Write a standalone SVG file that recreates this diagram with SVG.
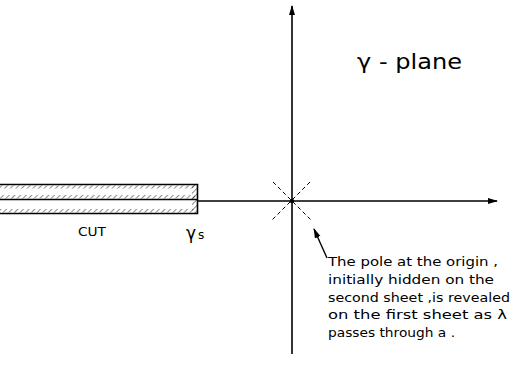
<svg xmlns="http://www.w3.org/2000/svg" width="511" height="377" viewBox="0 0 511 377">
<style>
.ln{stroke:#000;stroke-width:1.6;fill:none}
.ds{stroke:#000;stroke-width:1;stroke-dasharray:4 3;fill:none}
.t{font-family:"DejaVu Sans","Liberation Sans",sans-serif;fill:#000}
</style>
<defs>
<pattern id="hatch" width="4" height="4" patternUnits="userSpaceOnUse" patternTransform="rotate(45)">
<line x1="0" y1="0" x2="0" y2="4" stroke="#000" stroke-width="0.9"/>
</pattern>
<marker id="ah" markerWidth="10" markerHeight="8" refX="9" refY="4" orient="auto" markerUnits="userSpaceOnUse">
<path d="M0,1 L10,4 L0,7 Z" fill="#000"/>
</marker>
</defs>
<rect width="511" height="377" fill="#fff"/>
<g id="connectors">
<line class="ln" x1="292" y1="354" x2="292" y2="6" marker-end="url(#ah)"/>
<line class="ln" x1="197" y1="201" x2="497" y2="201" marker-end="url(#ah)"/>
<line class="ds" x1="273" y1="182" x2="311" y2="220"/>
<line class="ds" x1="310" y1="182" x2="272" y2="220"/>
<line stroke="#000" stroke-width="1.4" x1="327" y1="258" x2="314" y2="229" marker-end="url(#ah)"/>
</g>
<g id="origin"><circle cx="292" cy="201" r="2.2" fill="#000"/></g>
<g id="cut">
<rect x="0" y="185.5" width="195" height="3" fill="url(#hatch)"/>
<rect x="0" y="195" width="195" height="3.5" fill="url(#hatch)"/>
<rect x="0" y="209" width="195" height="3.5" fill="url(#hatch)"/>
<rect x="192" y="185" width="5" height="28" fill="url(#hatch)"/>
<path class="ln" d="M0,184.5 H197.5 V213.5 H0"/>
<line class="ln" x1="0" y1="199.5" x2="197" y2="199.5"/>
<text class="t" x="78" y="236" font-size="12" textLength="28" lengthAdjust="spacingAndGlyphs">CUT</text>
<text class="t" x="186" y="239" font-size="17">γ<tspan font-size="12" dx="2">s</tspan></text>
</g>
<g id="title"><text class="t" x="357" y="69" font-size="21" textLength="105" lengthAdjust="spacingAndGlyphs">γ - plane</text></g>
<g id="note" class="t" font-size="12">
<text x="328" y="266" textLength="170" lengthAdjust="spacingAndGlyphs">The pole at the origin ,</text>
<text x="328" y="284" textLength="166" lengthAdjust="spacingAndGlyphs">initially hidden on the</text>
<text x="328" y="302" textLength="182" lengthAdjust="spacingAndGlyphs">second sheet ,is revealed</text>
<text x="328" y="319" textLength="179" lengthAdjust="spacingAndGlyphs">on the first sheet as λ</text>
<text x="328" y="337" textLength="127" lengthAdjust="spacingAndGlyphs">passes through a .</text>
</g>
</svg>
